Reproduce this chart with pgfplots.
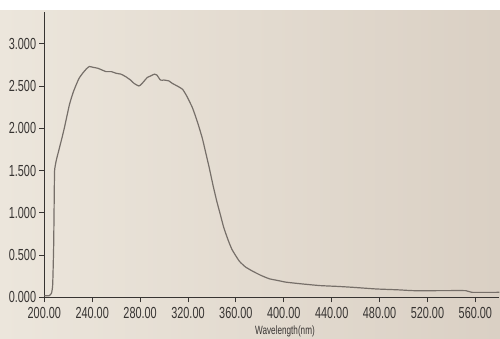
\documentclass[border=0pt]{standalone}
\usepackage{pgfplots}
\pgfplotsset{compat=1.18}
\usepackage{fontspec}
\newfontfamily\lab[FakeStretch=0.68]{Liberation Sans}
\definecolor{bgL}{RGB}{236,230,220}
\definecolor{bgR}{RGB}{218,208,196}
\definecolor{txt}{RGB}{55,52,50}
\definecolor{crv}{RGB}{118,111,105}
\begin{document}
\begin{tikzpicture}[x=1pt,y=1pt]
\shade[left color=bgL,right color=bgR] (0,0) rectangle (500,328);
\fill[white] (0,328) rectangle (500,338);
\begin{axis}[
  at={(37,48)}, anchor=south west,
  scale only axis, width=455pt, height=285pt,
  xmin=200, xmax=580, ymin=0, ymax=3.37,
  axis lines=left, axis line style={-, draw=txt, line width=0.8pt},
  xtick={200,240,...,560}, ytick={0,0.5,...,3},
  tick align=outside, major tick length=5pt,
  tick style={draw=txt, line width=0.8pt},
  /pgf/number format/assume math mode=true,
  xticklabel style={font=\lab\fontsize{16}{18}\selectfont, text=txt, inner sep=1pt, /pgf/number format/.cd, fixed, fixed zerofill, precision=2, 1000 sep={}},
  yticklabel style={font=\lab\fontsize{16}{18}\selectfont, text=txt, inner sep=1pt, /pgf/number format/.cd, fixed, fixed zerofill, precision=3},
  xticklabel shift=4pt, yticklabel shift=2pt,
  clip=false,
]
\addplot[color=crv, line width=1.2pt, smooth, tension=0.3] coordinates {
(200,0.02)(204,0.02)(206,0.05)(207,0.15)(207.8,0.6)(208.3,1.2)(208.6,1.5)(210,1.62)
(212.5,1.76)(215,1.9)(217,2.02)(221,2.28)(224,2.42)(226.5,2.51)(229,2.59)(232,2.65)
(235,2.70)(237.6,2.73)(241,2.72)(244.6,2.71)(248,2.69)(251.6,2.67)(256,2.67)(260,2.65)
(264,2.64)(268,2.61)(272,2.57)(275,2.53)(279,2.50)(281,2.52)(283.5,2.56)(286,2.60)
(289,2.62)(292,2.64)(294,2.63)(297,2.57)(300,2.57)(304,2.56)(307,2.53)(311,2.50)
(315.5,2.46)(319,2.38)(323.8,2.24)(328,2.07)(332,1.88)(335,1.70)(337.8,1.53)(341,1.32)
(344,1.14)(347,0.98)(350,0.82)(354,0.66)(357,0.56)(362.8,0.43)(368,0.36)(374,0.31)
(381,0.26)(388,0.22)(395,0.20)(402,0.18)(415,0.16)(430,0.14)(445,0.13)(457,0.12)
(477,0.10)(495,0.09)(508,0.08)(530,0.08)(552,0.08)(557,0.06)(580,0.06)
};
\end{axis}
\node[font=\lab\fontsize{12}{13}\selectfont, text=txt, anchor=south, inner sep=0pt] at (285,0.5) {Wavelength(nm)};
\pgfresetboundingbox
\useasboundingbox (0,0) rectangle (500,338);
\end{tikzpicture}
\end{document}
